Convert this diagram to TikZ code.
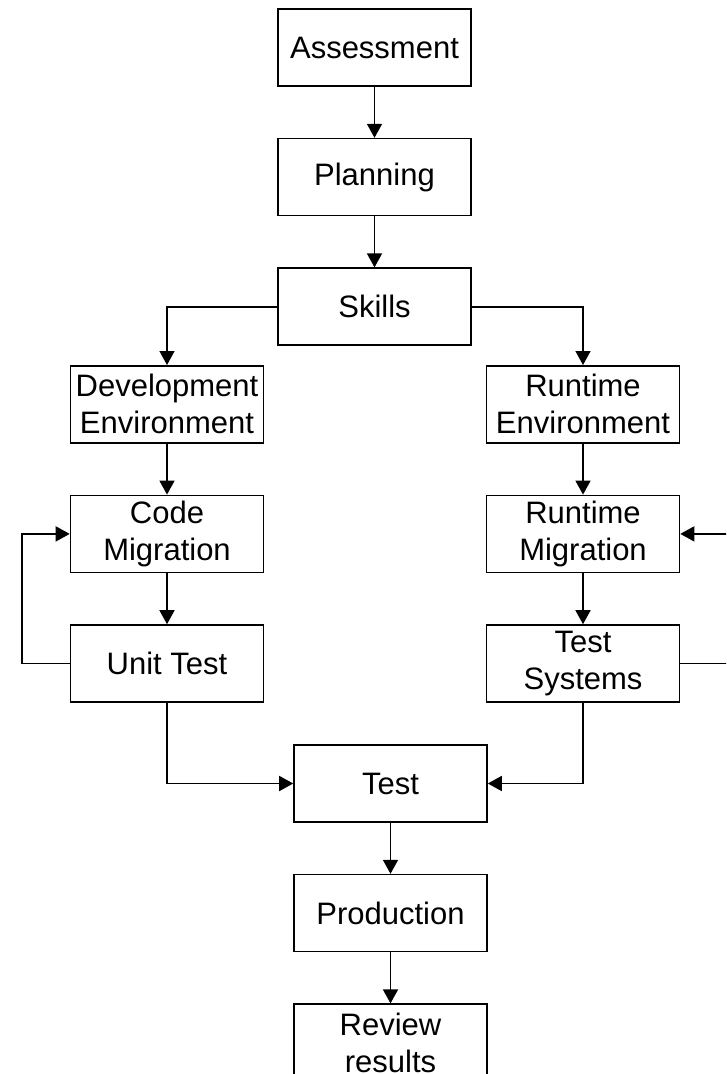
\documentclass[tikz,border=0pt]{standalone}
\usepackage{fontspec}
\setmainfont{Liberation Sans}
\usetikzlibrary{positioning}
\usetikzlibrary{arrows.meta}
\tikzset {
  node distance={51pt},
  % rectangular step box
  main/.style = {draw, rectangle, line width=1.6pt, minimum width=193pt, minimum height=77pt,
    inner sep=0pt, align=center, font=\fontsize{31}{37}\selectfont},
  % arrow between steps
  flow/.style={line width=1.6pt, -{Triangle[length=14pt,width=15pt]}},
  % plain line, no tip
  link/.style={line width=1.6pt},
}
\begin{document}
\begin{tikzpicture}[x=1pt, y=-1pt]
        \clip (0,0) rectangle (726,1074);
        \node[main] (assess) at (374.5,47.5) {Assessment};
        \node[main] (plan) [below=of assess] {Planning};
        \node[main] (skills) [below=of plan] {Skills};
        \node[main] (devenv) [below=19pt of skills, xshift=-207.5pt] {Development\\Environment};
        \node[main] (runenv) [below=19pt of skills, xshift=208.5pt] {Runtime\\Environment};
        \node[main] (codemig) [below=of devenv] {Code\\Migration};
        \node[main] (runmig) [below=of runenv] {Runtime\\Migration};
        \node[main] (unittest) [below=of codemig] {Unit Test};
        \node[main] (testsys) [below=of runmig] {Test\\Systems};
        \node[main] (test) at (390.5,783.5) {Test};
        \node[main] (prod) [below=of test] {Production};
        \node[main] (review) [below=of prod] {Review\\results};

        \draw [flow] (assess) -- (plan);
        \draw [flow] (plan) -- (skills);
        \draw [flow] (skills.west) -| (devenv.north);
        \draw [flow] (skills.east) -| (runenv.north);
        \draw [flow] (devenv) -- (codemig);
        \draw [flow] (runenv) -- (runmig);
        \draw [flow] (codemig) -- (unittest);
        \draw [flow] (runmig) -- (testsys);
        \draw [flow] (unittest.west) -- ++(-48,0) |- (codemig.west);
        \draw [flow] (testsys.east) -- ++(60,0) |- (runmig.east);
        \draw [flow] (unittest.south) |- (test.west);
        \draw [flow] (testsys.south) |- (test.east);
        \draw [flow] (test) -- (prod);
        \draw [flow] (prod) -- (review);
      \end{tikzpicture}
\end{document}
